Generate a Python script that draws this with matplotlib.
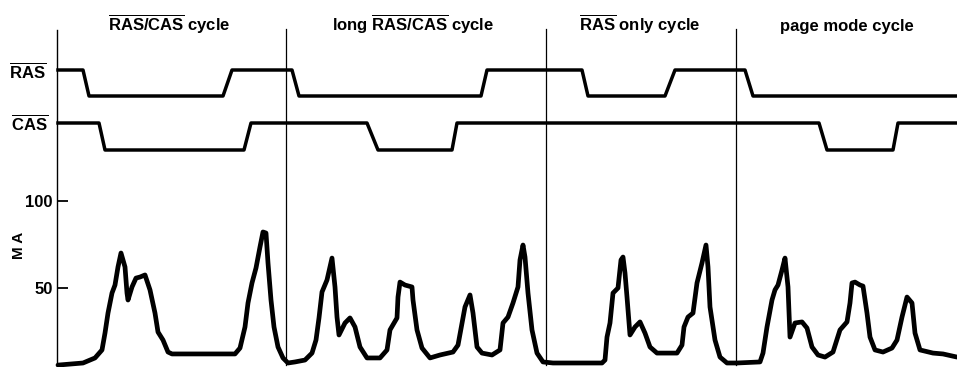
import matplotlib
matplotlib.use("Agg")
import matplotlib.pyplot as plt

# time base (arbitrary units, one unit per column of the scope trace)
cycle_names = [r"$\overline{\mathbf{RAS/CAS}}$ cycle",
               r"long $\overline{\mathbf{RAS/CAS}}$ cycle",
               r"$\overline{\mathbf{RAS}}$ only cycle",
               "page mode cycle"]
cycle_centers = [169, 413, 640, 847]
cycle_bounds = [286, 546, 736]

# RAS / CAS logic levels (1 = high, 0 = low) at each corner time
ras_t = [58, 83, 89, 223, 232, 292, 299, 481, 487, 582, 588, 665, 675, 745, 753, 957]
ras_v = [1, 1, 0, 0, 1, 1, 0, 0, 1, 1, 0, 0, 1, 1, 0, 0]
cas_t = [58, 99, 105, 244, 251, 367, 378, 452, 457, 819, 827, 893, 898, 957]
cas_v = [1, 1, 0, 0, 1, 1, 0, 0, 1, 1, 0, 0, 1, 1]

# supply current trace (mA)
i_t = [58, 83, 95, 102, 105, 108, 112, 115, 118, 121, 125, 127, 128, 132, 136,
       140, 145, 150, 155, 158, 163, 168, 172, 235, 240, 245, 248, 252, 256, 260,
       263, 266, 268, 271, 274, 278, 283, 288, 295, 305, 312, 316, 319, 322, 327,
       332, 335, 337, 339, 345, 350, 355, 360, 367, 380, 387, 390, 397, 398, 400,
       405, 412, 413, 417, 422, 430, 440, 453, 458, 462, 465, 470, 473, 477, 482,
       492, 500, 503, 508, 513, 518, 520, 523, 525, 528, 532, 537, 543, 553, 602,
       605, 607, 610, 613, 618, 621, 623, 625, 627, 630, 635, 640, 645, 650, 657,
       677, 682, 684, 688, 693, 697, 702, 706, 708, 710, 715, 720, 727, 737, 760,
       763, 767, 772, 775, 778, 782, 785, 788, 790, 795, 802, 807, 812, 818, 825,
       833, 840, 847, 850, 852, 855, 860, 863, 867, 870, 875, 883, 892, 897, 902,
       907, 912, 915, 920, 933, 943, 957]
i_ma = [5.7, 6.9, 9.8, 14.4, 24.1, 35.6, 47.1, 51.7, 62.1, 70.1, 62.1, 47.1, 43.1, 50.6, 55.7,
        56.3, 57.5, 48.9, 35.6, 24.7, 20.1, 13.2, 12.1, 12.1, 15.5, 27.6, 41.4, 52.9, 61.5, 73.6,
        82.2, 81.6, 64.4, 43.1, 27.6, 16.1, 9.8, 6.9, 7.5, 8.6, 12.6, 20.1, 32.8, 47.7, 54.6,
        67.2, 50.6, 33.3, 23.0, 29.9, 32.8, 27.6, 16.1, 9.8, 9.8, 14.4, 25.9, 32.8, 44.8, 53.4,
        51.7, 50.6, 43.1, 25.9, 15.5, 9.8, 11.5, 13.2, 17.2, 29.9, 39.1, 46.0, 35.6, 16.1, 12.6,
        11.5, 14.4, 29.9, 33.3, 41.4, 50.6, 66.1, 74.7, 67.8, 47.1, 25.9, 12.6, 7.5, 6.9, 6.9,
        8.6, 21.8, 29.9, 47.1, 50.0, 66.1, 67.8, 58.6, 44.8, 23.0, 27.6, 30.5, 24.1, 16.1, 12.6,
        12.6, 17.2, 27.6, 33.3, 35.6, 52.9, 64.4, 74.7, 62.1, 39.1, 20.1, 10.3, 6.9, 6.9, 7.5,
        12.6, 27.6, 43.1, 48.9, 51.7, 60.3, 67.2, 50.6, 21.8, 29.9, 30.5, 27.0, 16.1, 11.5, 10.3,
        13.2, 25.9, 30.5, 41.4, 52.9, 53.4, 51.7, 51.1, 35.6, 21.8, 14.4, 13.2, 15.5, 20.1, 33.3,
        44.8, 41.4, 24.1, 14.4, 12.6, 12.1, 10.3]
y_ticks = [50, 100]

plt.rcParams['font.family'] = ['Liberation Sans', 'DejaVu Sans']
plt.rcParams['font.weight'] = 'bold'
plt.rcParams['mathtext.fontset'] = 'custom'
plt.rcParams['mathtext.bf'] = 'Liberation Sans:bold'
plt.rcParams['mathtext.rm'] = 'Liberation Sans:bold'

W, H = 957, 367
fig = plt.figure(figsize=(W / 100, H / 100), dpi=100)

# current axis in mA
ax = fig.add_axes([0, 0, 1, 1])
ax.set_xlim(0, W)
ma_per_px = 50 / 87
ax.set_ylim((375 - H) * ma_per_px, 375 * ma_per_px)
ax.patch.set_visible(False)
for s in ['top', 'right', 'bottom']:
    ax.spines[s].set_visible(False)
ax.spines['left'].set_position(('data', 57))
ax.spines['left'].set_bounds((375 - 364) * ma_per_px, (375 - 30) * ma_per_px)
ax.spines['left'].set_linewidth(1.0)
ax.set_xticks([])
ax.set_yticks(y_ticks)
ax.tick_params(axis='y', direction='in', length=8, width=1.3, pad=3, labelsize=12)
for lbl in ax.get_yticklabels():
    lbl.set_fontweight('bold')

ax.plot(i_t, i_ma, color='black', lw=3.4, solid_joinstyle='round', solid_capstyle='round')

# cycle boundaries
for xb in cycle_bounds:
    ax.plot([xb, xb], [(375 - 365) * ma_per_px, (375 - 29) * ma_per_px], color='black', lw=0.9)

# logic signals on an overlay in screen rows
sig = fig.add_axes([0, 0, 1, 1], sharex=ax)
sig.set_ylim(H, 0)
sig.axis('off')
sig.patch.set_visible(False)
ras_y = [96 - 26 * v for v in ras_v]
cas_y = [150 - 27 * v for v in cas_v]
sig.plot(ras_t, ras_y, color='black', lw=2.5, solid_joinstyle='round')
sig.plot(cas_t, cas_y, color='black', lw=2.5, solid_joinstyle='round')

sig.text(46, 71, r"$\overline{\mathbf{RAS}}$", ha='right', va='center', fontsize=12)
sig.text(48, 123, r"$\overline{\mathbf{CAS}}$", ha='right', va='center', fontsize=12)

for name, xc in zip(cycle_names, cycle_centers):
    sig.text(xc, 31, name, ha='center', va='baseline', fontsize=12, fontweight='bold')

sig.text(19, 245, "M A", rotation=90, ha='center', va='center', fontsize=11, fontweight='bold')

fig.savefig("out.png", dpi=100)
